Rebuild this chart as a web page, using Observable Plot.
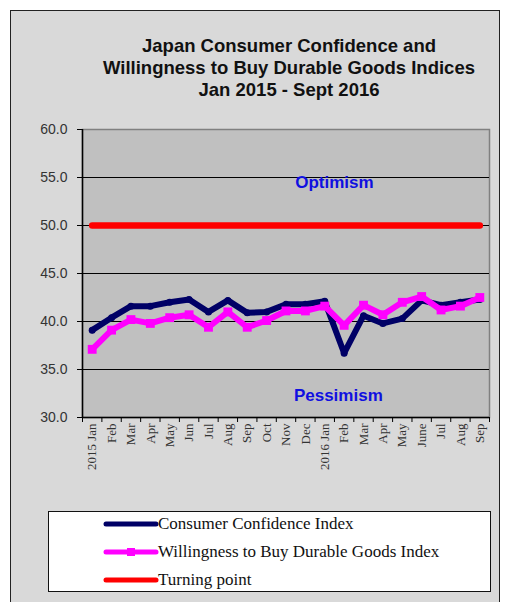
<!DOCTYPE html>
<html>
<head>
<meta charset="utf-8">
<script src="https://cdn.jsdelivr.net/npm/d3@7"></script>
<script src="https://cdn.jsdelivr.net/npm/@observablehq/plot@0.6"></script>
<style>
  html, body { margin: 0; padding: 0; background: #ffffff; }
  #frame {
    position: relative; width: 506px; height: 606px; overflow: hidden;
    background: #ffffff;
  }
  #panel {
    position: absolute; left: 10px; top: 10px; width: 490px; height: 592px;
    background: #d9d9d9; border-left: 1px solid #222; border-top: 1px solid #222;
    border-right: 1px solid #222; box-sizing: border-box;
  }
  #title {
    position: absolute; left: 72px; top: 35px; width: 434px;
    text-align: center; font: bold 18.5px "Liberation Sans", Arial, sans-serif;
    line-height: 22px; color: #111;
  }
  #chart { position: absolute; left: 0; top: 110px; }
  #legend {
    position: absolute; left: 48px; top: 511px; width: 443px; height: 81px;
    background: #fff; border: 1px solid #111; box-sizing: border-box;
  }
</style>
</head>
<body>
<div id="frame">
  <div id="panel"></div>
  <div id="title">Japan Consumer Confidence and<br>Willingness to Buy Durable Goods Indices<br>Jan 2015 - Sept 2016</div>
  <div id="chart"></div>
  <div id="legend"></div>
</div>
<script>
// ---- data ----
const monthLabels = ["2015 Jan","Feb","Mar","Apr","May","Jun","Jul","Aug","Sep","Oct","Nov","Dec",
                     "2016 Jan","Feb","Mar","Apr","May","June","Jul","Aug","Sep"];
const consumerConfidence = [39.1,40.4,41.6,41.6,42.0,42.3,41.0,42.2,40.9,41.0,41.8,41.8,
                            42.1,36.7,40.6,39.8,40.3,42.2,41.7,42.0,42.3];
const willingnessDurable = [37.1,39.1,40.2,39.8,40.4,40.7,39.4,41.0,39.4,40.1,41.1,41.1,
                            41.6,39.6,41.7,40.7,42.0,42.6,41.2,41.6,42.5];
const turningPointValue = 50;
const yTicks = [30,35,40,45,50,55,60];
const annotations = [
  {label: "Optimism",  pos: 13.0, value: 54.5},
  {label: "Pessimism", pos: 13.2, value: 32.3}
];
const seriesNames = ["Consumer Confidence Index","Willingness to Buy Durable Goods Index","Turning point"];
const seriesColors = ["#000066","#ff00ff","#ff0000"];

// ---- build ----
const n = monthLabels.length;
const rows = monthLabels.map((m, i) => ({
  pos: i + 0.5, label: m,
  cci: consumerConfidence[i], wtb: willingnessDurable[i], tp: turningPointValue
}));
const boundaries = d3.range(n + 1);

const plot = Plot.plot({
  width: 506, height: 380,
  marginLeft: 82, marginRight: 17, marginTop: 19, marginBottom: 73,
  style: {background: "transparent", overflow: "visible"},
  x: {type: "linear", domain: [0, n], axis: null},
  y: {domain: [30, 60], axis: null},
  marks: [
    Plot.frame({fill: "#c0c0c0", stroke: "#808080", strokeWidth: 1.5}),
    Plot.ruleY(yTicks.filter(v => v > 30 && v < 60), {stroke: "#000", strokeWidth: 1}),
    Plot.axisY({ticks: yTicks, tickFormat: d => d.toFixed(1), tickSize: 5, tickPadding: 10,
      fontSize: 14, fontFamily: "Liberation Sans, Arial, sans-serif", fill: "#333", stroke: "#000", label: null}),
    Plot.ruleX([0], {stroke: "#000", strokeWidth: 1.5}),
    Plot.ruleY([30], {stroke: "#000", strokeWidth: 1.5}),
    Plot.axisX({ticks: boundaries, tickFormat: () => "", tickSize: 5, stroke: "#000", label: null}),
    Plot.axisX({ticks: rows.map(d => d.pos), tickFormat: (d) => monthLabels[Math.floor(d)], tickSize: 0,
      tickPadding: 6, tickRotate: -90, fontSize: 13, fontFamily: "Liberation Serif, Times New Roman, serif",
      fill: "#333", label: null}),
    Plot.line(rows, {x: "pos", y: "tp", stroke: seriesColors[2], strokeWidth: 6.5, strokeLinecap: "round"}),
    Plot.line(rows, {x: "pos", y: "cci", stroke: seriesColors[0], strokeWidth: 6, strokeLinejoin: "round"}),
    Plot.dot(rows, {x: "pos", y: "cci", fill: seriesColors[0], r: 3.5}),
    Plot.line(rows, {x: "pos", y: "wtb", stroke: seriesColors[1], strokeWidth: 6, strokeLinejoin: "round"}),
    Plot.dot(rows, {x: "pos", y: "wtb", fill: seriesColors[1], symbol: "square", r: 5}),
    Plot.text(annotations, {x: "pos", y: "value", text: "label", fill: "#1010e0", fontSize: 17,
      fontWeight: "bold", fontFamily: "Liberation Sans, Arial, sans-serif"})
  ]
});
document.getElementById("chart").appendChild(plot);

// ---- legend ----
const leg = d3.select("#legend").append("svg").attr("width", 441).attr("height", 79)
  .style("position", "absolute").style("left", "0px").style("top", "0px");
seriesNames.forEach((name, i) => {
  const g = leg.append("g").attr("transform", `translate(57,${12 + i * 28})`);
  g.append("line").attr("x1", 0).attr("x2", 50).attr("y1", 0).attr("y2", 0)
    .attr("stroke", seriesColors[i]).attr("stroke-width", 5).attr("stroke-linecap", "round");
  if (i === 1) g.append("rect").attr("x", 21).attr("y", -4).attr("width", 8).attr("height", 8).attr("fill", seriesColors[i]);
  g.append("text").attr("x", 52).attr("y", 5).text(name)
    .style("font", "17px 'Liberation Serif', 'Times New Roman', serif").attr("fill", "#111");
});
</script>
</body>
</html>
